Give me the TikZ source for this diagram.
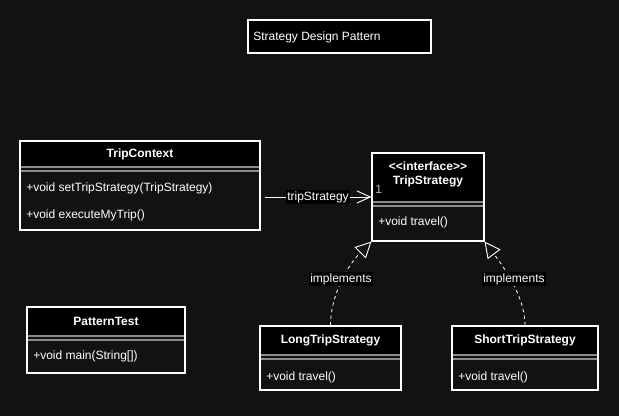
\documentclass[tikz,border=0pt]{standalone}
\usepackage{fontspec}
\setmainfont{Liberation Sans}
\usetikzlibrary{arrows.meta,fit}
\definecolor{bg}{HTML}{121212}
\definecolor{sepc}{HTML}{8C8C8C}
\definecolor{numc}{HTML}{BBBBBB}
\newcommand{\myclass}[6]{%
  \fill[black] (#2,#3) rectangle (#4,#6);
  \draw[sepline] (#2,#6) -- (#4,#6);
  \draw[sepline] (#2,{#6+4}) -- (#4,{#6+4});
  \node[fit={(#2,#3) (#4,#5)}, classbox] (#1) {};
}
\begin{document}
\begin{tikzpicture}[x=0.75pt,y=-0.75pt,
  font=\fontsize{9}{11}\selectfont,
  every node/.style={text=white},
  sepline/.style={draw=sepc, line width=1.1pt},
  classbox/.style={draw=white, line width=0.8pt, inner sep=0pt},
  ctitle/.style={font=\fontsize{9}{11}\selectfont\bfseries, inner sep=0pt},
  meth/.style={anchor=west, inner sep=0pt},
  lbl/.style={fill=black, inner sep=1pt},
  assoc/.style={draw=white, line width=0.6pt, -{Straight Barb[length=10pt,width=9pt,line width=0.7pt]}},
  impl/.style={draw=white, line width=0.6pt, dash pattern=on 2.5pt off 2.5pt, -{Triangle[open,length=12pt,width=12pt,fill=bg,line width=0.7pt]}}]
\fill[bg] (0,0) rectangle (619,416);
% title
\node[fit={(248,20) (431,53)}, draw=white, fill=black, line width=0.8pt, inner sep=0pt] (title) {};
\node[meth] (titletext) at (253,37.5) {Strategy Design Pattern};
% TripContext
\myclass{TC}{20}{141}{260}{230}{167}
\node[ctitle] (tct) at (140,154) {TripContext};
\node[meth] (tcm1) at (26,188) {+void setTripStrategy(TripStrategy)};
\node[meth] (tcm2) at (26,215) {+void executeMyTrip()};
% TripStrategy
\myclass{TS}{372}{153}{484}{241}{202}
\node[ctitle] (tsi) at (428,166) {<{}<interface>{}>};
\node[ctitle] (tst) at (428,181) {TripStrategy};
\node[meth] (tsm) at (378,222) {+void travel()};
\node[meth, text=numc] (one) at (375,189) {1};
% LongTripStrategy
\myclass{LT}{260}{326}{401}{390}{355}
\node[ctitle] (ltt) at (330.5,340) {LongTripStrategy};
\node[meth] (ltm) at (266,377) {+void travel()};
% ShortTripStrategy
\myclass{ST}{452}{326}{598}{390}{355}
\node[ctitle] (stt) at (525,340) {ShortTripStrategy};
\node[meth] (stm) at (458,377) {+void travel()};
% PatternTest
\myclass{PT}{27}{307}{185}{373}{336}
\node[ctitle] (ptt) at (106,321) {PatternTest};
\node[meth] (ptm) at (33,356) {+void main(String[])};
% association
\coordinate (astart) at ([xshift=3pt]TC.east |- TS.west);
\draw[assoc] (astart) -- node[lbl] (alab) {tripStrategy} (TS.west);
% implements
\draw[impl] (LT.north) .. controls +(0,-30) and +(-24,24) .. (TS.south west);
\draw[impl] (ST.north) .. controls +(0,-30) and +(18,24) .. (TS.south east);
\node[lbl] (il) at (341,279) {implements};
\node[lbl] (ir) at (514,279) {implements};
\end{tikzpicture}
\end{document}
